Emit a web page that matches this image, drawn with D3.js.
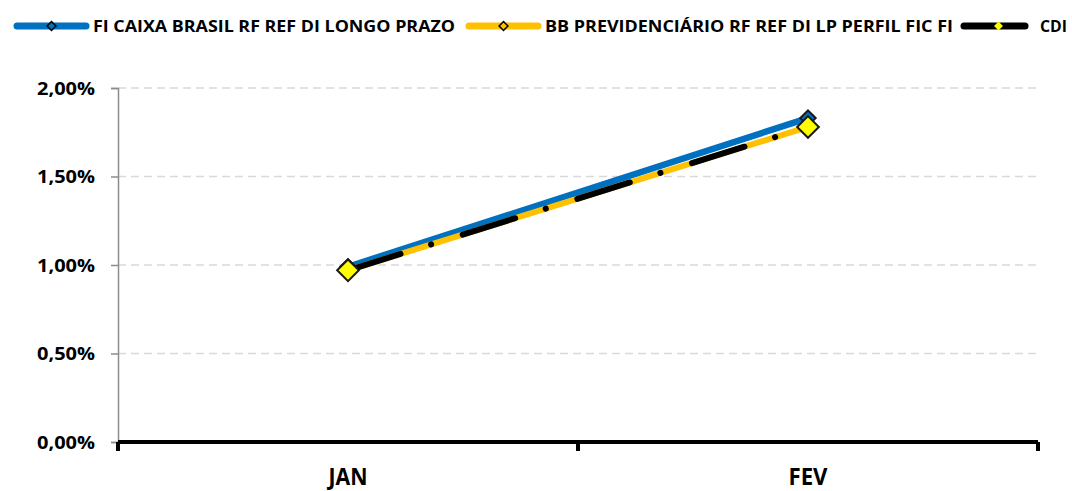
<!DOCTYPE html>
<html>
<head>
<meta charset="utf-8">
<script src="https://cdn.jsdelivr.net/npm/d3@7"></script>
<style>
  body { margin: 0; background: #fff; }
  text { font-family: "Open Sans", "Noto Sans", sans-serif; font-weight: bold; fill: #000; }
</style>
</head>
<body>
<div id="chart"></div>
<script>
// data
var months = ['JAN', 'FEV'];
var caixa = [0.99, 1.83];
var bb = [0.97, 1.78];
var cdi = [0.97, 1.78];
var yTicks = [0, 0.5, 1.0, 1.5, 2.0];
var seriesNames = ['FI CAIXA BRASIL RF REF DI LONGO PRAZO', 'BB PREVIDENCIÁRIO RF REF DI LP PERFIL FIC FI', 'CDI'];

var width = 1072, height = 491;
var margin = { top: 88, right: 34, bottom: 49, left: 118 };

var svg = d3.select('#chart').append('svg')
  .attr('width', width)
  .attr('height', height);

var x = d3.scaleBand().domain(months).range([margin.left, width - margin.right]);
var y = d3.scaleLinear().domain([0, 2]).range([height - margin.bottom, margin.top]);

function fmt(v) { return d3.format('.2f')(v).replace('.', ',') + '%'; }

// gridlines
svg.append('g').selectAll('line')
  .data(yTicks.filter(function(d) { return d > 0; }))
  .enter().append('line')
  .attr('x1', margin.left).attr('x2', width - margin.right)
  .attr('y1', function(d) { return y(d); }).attr('y2', function(d) { return y(d); })
  .attr('stroke', '#d9d9d9').attr('stroke-width', 1.3)
  .attr('stroke-dasharray', '8,5');

// y axis
var yAxis = d3.axisLeft(y).tickValues(yTicks).tickFormat(fmt).tickSize(7).tickPadding(16);
var gy = svg.append('g').attr('transform', 'translate(' + margin.left + ',0)').call(yAxis);
gy.select('.domain').attr('stroke', '#8c8c8c').attr('stroke-width', 1.5);
gy.selectAll('.tick line').attr('stroke', '#8c8c8c').attr('stroke-width', 1.5);
gy.selectAll('.tick text').style('font-size', '18px').attr('dy', '0.35em')
  .attr('textLength', 58).attr('lengthAdjust', 'spacingAndGlyphs');

// x axis
var xAxis = d3.axisBottom(x).tickSize(0).tickPadding(27);
var gx = svg.append('g').attr('transform', 'translate(0,' + y(0) + ')').call(xAxis);
gx.select('.domain').remove();
gx.selectAll('.tick text').style('font-size', '23px')
  .attr('textLength', 39).attr('lengthAdjust', 'spacingAndGlyphs');
gx.append('line')
  .attr('x1', margin.left).attr('x2', width - margin.right)
  .attr('stroke', '#000').attr('stroke-width', 4);
var bounds = [margin.left].concat(months.map(function(m) { return x(m) + x.bandwidth(); }));
gx.selectAll('.bound').data(bounds).enter().append('line')
  .attr('x1', function(d) { return d; }).attr('x2', function(d) { return d; })
  .attr('y1', 0).attr('y2', 9)
  .attr('stroke', '#000').attr('stroke-width', 4);

var cx = function(d, i) { return x(months[i]) + x.bandwidth() / 2; };
var line = d3.line().x(cx).y(function(d) { return y(d); });
var diamond = d3.symbol().type(d3.symbolDiamond2);

// series
svg.append('path').datum(caixa).attr('d', line)
  .attr('fill', 'none').attr('stroke', '#0070c0').attr('stroke-width', 6.5).attr('stroke-linecap', 'round');
svg.append('path').datum(bb).attr('d', line)
  .attr('fill', 'none').attr('stroke', '#ffc000').attr('stroke-width', 6).attr('stroke-linecap', 'round');
svg.append('path').datum(cdi).attr('d', line)
  .attr('fill', 'none').attr('stroke', '#000').attr('stroke-width', 6).attr('stroke-linecap', 'round')
  .attr('stroke-dasharray', '55,32,0.1,33');

svg.append('g').selectAll('path').data(caixa).enter().append('path')
  .attr('transform', function(d, i) { return 'translate(' + cx(d, i) + ',' + y(d) + ')'; })
  .attr('d', diamond.size(150)).attr('fill', '#0070c0').attr('stroke', '#1a1a1a').attr('stroke-width', 2);
svg.append('g').selectAll('path').data(cdi).enter().append('path')
  .attr('transform', function(d, i) { return 'translate(' + cx(d, i) + ',' + y(d) + ')'; })
  .attr('d', diamond.size(300)).attr('fill', '#ffff00').attr('stroke', '#1a1a1a').attr('stroke-width', 2);

// legend
var legendItems = [
  { name: seriesNames[0], color: '#0070c0', marker: '#0070c0', x0: 17, x1: 86, tx: 93, w: 362 },
  { name: seriesNames[1], color: '#ffc000', marker: '#ffc000', x0: 469, x1: 538, tx: 545, w: 408 },
  { name: seriesNames[2], color: '#000', marker: '#ffff00', x0: 964, x1: 1025, tx: 1040, w: 27 }
];
var ly = 26;
var lg = svg.append('g').selectAll('g').data(legendItems).enter().append('g');
lg.append('line')
  .attr('x1', function(d) { return d.x0; }).attr('x2', function(d) { return d.x1; })
  .attr('y1', ly).attr('y2', ly)
  .attr('stroke', function(d) { return d.color; }).attr('stroke-width', 7).attr('stroke-linecap', 'round');
lg.append('path')
  .attr('transform', function(d) { return 'translate(' + ((d.x0 + d.x1) / 2 + (d.color === '#000' ? 4 : 0)) + ',' + ly + ')'; })
  .attr('d', d3.symbol().type(d3.symbolDiamond2).size(50))
  .attr('fill', function(d) { return d.marker; })
  .attr('stroke', function(d) { return d.color === '#000' ? 'none' : '#000'; })
  .attr('stroke-width', 1.5);
lg.append('text')
  .attr('x', function(d) { return d.tx; }).attr('y', ly).attr('dy', '0.35em')
  .style('font-size', '16px')
  .attr('textLength', function(d) { return d.w; }).attr('lengthAdjust', 'spacingAndGlyphs')
  .text(function(d) { return d.name; });
</script>
</body>
</html>
